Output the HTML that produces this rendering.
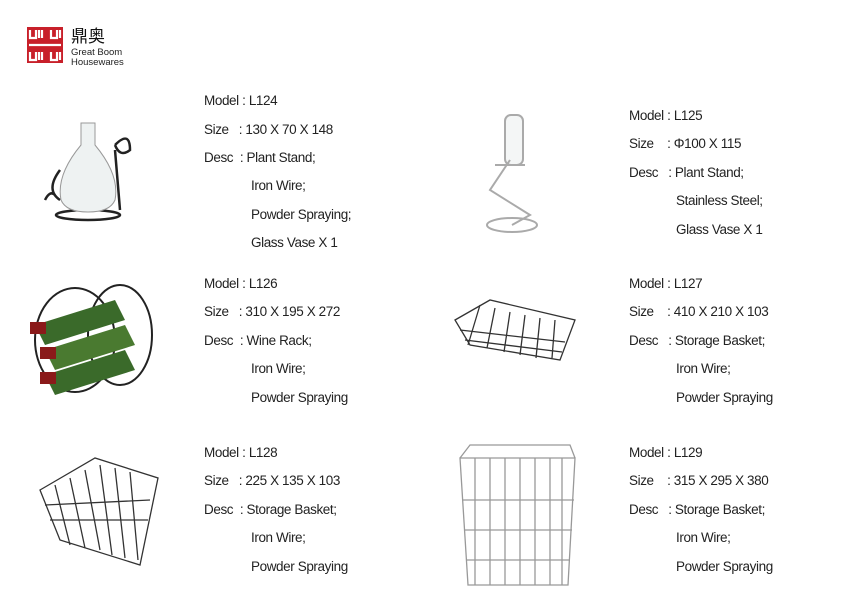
<!DOCTYPE html>
<html><head><meta charset="utf-8"><style>
body{margin:0;width:842px;height:593px;background:#fff;position:relative;overflow:hidden;font-family:"Liberation Sans","Noto Sans CJK SC",sans-serif;color:#222}
.t{position:absolute;font-size:13.5px;line-height:16px;white-space:nowrap;letter-spacing:-0.4px}
svg{position:absolute;left:0;top:0}
</style></head><body>
<svg width="842" height="593" viewBox="0 0 842 593">
<rect x="27" y="27" width="36" height="36" fill="#c8202a"/>
<g stroke="#fff" stroke-width="2.2" fill="none">
<path d="M30 30v8h6v-8M39 30v8M42 30v8M51 30v8h6v-8M60 30v8"/>
<path d="M30 52v8h6v-8M39 52v8M42 52v8M51 52v8h6v-8M60 52v8"/>
<path d="M29 45h32"/>
</g>
<text x="71" y="42" font-size="17" fill="#111" font-family="Noto Sans CJK SC,sans-serif">鼎奥</text>
<text x="71" y="55" font-size="9.5" fill="#222">Great Boom</text>
<text x="71" y="65" font-size="9.5" fill="#222">Housewares</text>

<g fill="none" stroke="#222" stroke-width="2.5">
<path d="M60 200 q-15 -10 0 -30 M115 145 q15 -15 15 5 q-10 8 -15 -5 M115 150 L120 210 M45 200 q5 -10 10 -5"/>
<ellipse cx="88" cy="215" rx="32" ry="5"/>
</g>
<path d="M81 123h14v22q25 30 20 55q-5 12 -27 12q-22 0 -27 -12q-5 -25 20 -55z" fill="#eef2f2" stroke="#999"/>
<g fill="none" stroke="#aaa" stroke-width="2">
<rect x="505" y="115" width="18" height="50" rx="6" fill="#f4f6f6"/>
<ellipse cx="512" cy="225" rx="25" ry="7"/>
<path d="M510 160 L490 190 L530 215 L512 225 M495 165 h30"/>
</g>
<g fill="none" stroke="#222" stroke-width="2">
<ellipse cx="75" cy="340" rx="40" ry="52"/>
<ellipse cx="120" cy="335" rx="32" ry="50"/>
</g>
<path d="M35 325 l80 -25 l10 20 l-80 25z" fill="#3a6a2a"/>
<path d="M45 350 l80 -25 l10 20 l-80 25z" fill="#4a7a30"/>
<path d="M45 375 l80 -25 l10 20 l-80 25z" fill="#3a6a2a"/>
<rect x="30" y="322" width="16" height="12" fill="#8a1a1a"/>
<rect x="40" y="347" width="16" height="12" fill="#8a1a1a"/>
<rect x="40" y="372" width="16" height="12" fill="#8a1a1a"/>
<g fill="none" stroke="#333" stroke-width="1.3">
<path d="M455 320 L490 300 L575 320 L560 360 L470 345 Z"/>
<path d="M480 305 l-12 40 M495 308 l-8 40 M510 312 l-6 40 M525 315 l-5 40 M540 318 l-4 40 M555 320 l-3 38"/>
<path d="M460 330 L565 342 M465 340 L562 352"/>
<path d="M40 490 L95 458 L158 478 L140 565 L60 540 Z"/>
<path d="M55 485 l15 60 M70 478 l15 70 M85 470 l15 80 M100 465 l12 90 M115 468 l10 90 M130 472 l8 88"/>
<path d="M45 505 L150 500 M50 520 L148 520"/>
</g>
<g fill="none" stroke="#999" stroke-width="1.3">
<path d="M460 458 L575 458 L568 585 L468 585 Z M460 458 L470 445 L570 445 L575 458"/>
<path d="M475 458v127 M490 458v127 M505 458v127 M520 458v127 M535 458v127 M550 458v127 M562 458v127"/>
<path d="M462 500h112 M464 530h108 M466 560h104"/>
</g>
</svg>

<div class="t" style="left:204px;top:93px">Model : L124</div>
<div class="t" style="left:204px;top:122px">Size&nbsp;&nbsp;&nbsp;: 130 X 70 X 148</div>
<div class="t" style="left:204px;top:150px">Desc&nbsp;&nbsp;: Plant Stand;</div>
<div class="t" style="left:251px;top:178px">Iron Wire;</div>
<div class="t" style="left:251px;top:207px">Powder Spraying;</div>
<div class="t" style="left:251px;top:235px">Glass Vase X 1</div>

<div class="t" style="left:629px;top:108px">Model : L125</div>
<div class="t" style="left:629px;top:136px">Size&nbsp;&nbsp;&nbsp;&nbsp;: Φ100 X 115</div>
<div class="t" style="left:629px;top:165px">Desc&nbsp;&nbsp;&nbsp;: Plant Stand;</div>
<div class="t" style="left:676px;top:193px">Stainless Steel;</div>
<div class="t" style="left:676px;top:222px">Glass Vase X 1</div>

<div class="t" style="left:204px;top:276px">Model : L126</div>
<div class="t" style="left:204px;top:304px">Size&nbsp;&nbsp;&nbsp;: 310 X 195 X 272</div>
<div class="t" style="left:204px;top:333px">Desc&nbsp;&nbsp;: Wine Rack;</div>
<div class="t" style="left:251px;top:361px">Iron Wire;</div>
<div class="t" style="left:251px;top:390px">Powder Spraying</div>

<div class="t" style="left:629px;top:276px">Model : L127</div>
<div class="t" style="left:629px;top:304px">Size&nbsp;&nbsp;&nbsp;&nbsp;: 410 X 210 X 103</div>
<div class="t" style="left:629px;top:333px">Desc&nbsp;&nbsp;&nbsp;: Storage Basket;</div>
<div class="t" style="left:676px;top:361px">Iron Wire;</div>
<div class="t" style="left:676px;top:390px">Powder Spraying</div>

<div class="t" style="left:204px;top:445px">Model : L128</div>
<div class="t" style="left:204px;top:473px">Size&nbsp;&nbsp;&nbsp;: 225 X 135 X 103</div>
<div class="t" style="left:204px;top:502px">Desc&nbsp;&nbsp;: Storage Basket;</div>
<div class="t" style="left:251px;top:530px">Iron Wire;</div>
<div class="t" style="left:251px;top:559px">Powder Spraying</div>

<div class="t" style="left:629px;top:445px">Model : L129</div>
<div class="t" style="left:629px;top:473px">Size&nbsp;&nbsp;&nbsp;&nbsp;: 315 X 295 X 380</div>
<div class="t" style="left:629px;top:502px">Desc&nbsp;&nbsp;&nbsp;: Storage Basket;</div>
<div class="t" style="left:676px;top:530px">Iron Wire;</div>
<div class="t" style="left:676px;top:559px">Powder Spraying</div>
</body></html>
